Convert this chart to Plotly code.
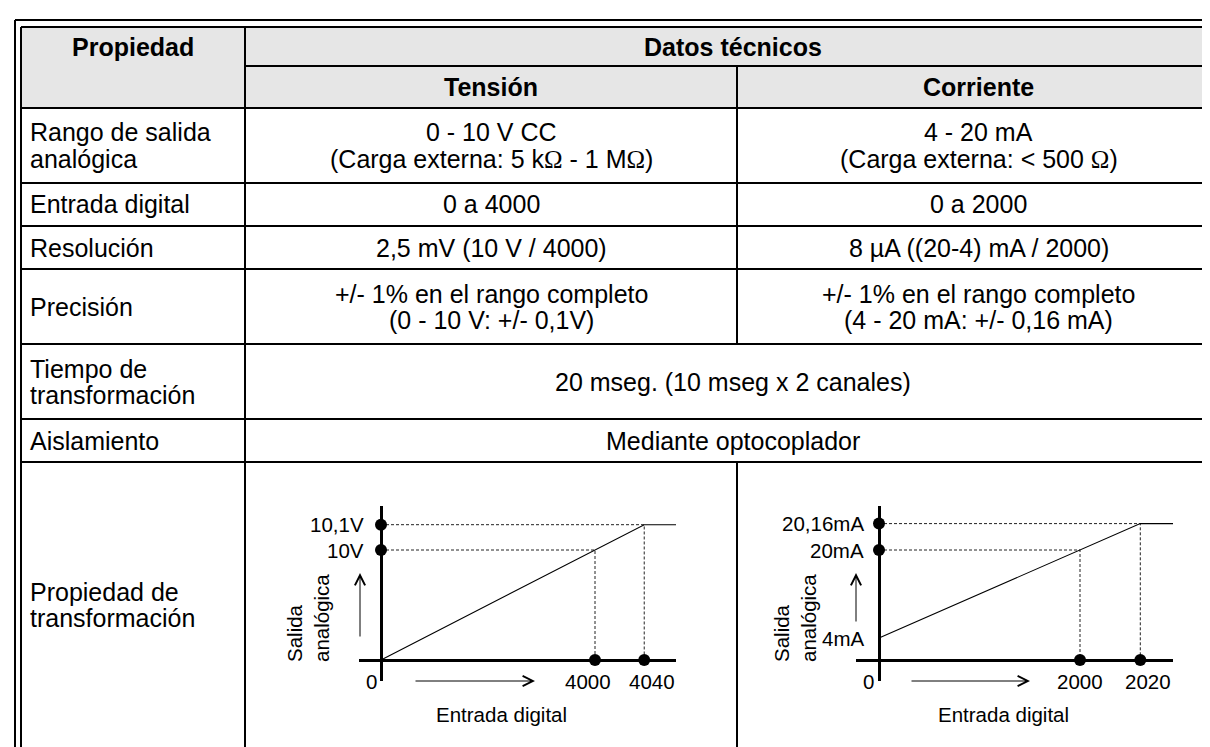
import plotly.graph_objects as go

W, H = 1210, 747
FONT = "Arial, 'Liberation Sans', Helvetica, sans-serif"
OHM = "<span style=\"font-family:'Liberation Serif', 'Times New Roman', serif\">Ω</span>"

# ---------------- table content ----------------
hdr_prop = "Propiedad"
hdr_datos = "Datos técnicos"
hdr_cols = ["Tensión", "Corriente"]
row_labels = [
    ["Rango de salida", "analógica"],
    ["Entrada digital"],
    ["Resolución"],
    ["Precisión"],
    ["Tiempo de", "transformación"],
    ["Aislamiento"],
    ["Propiedad de", "transformación"],
]
tension_vals = [
    ["0 - 10 V CC", "(Carga externa: 5 kΩ - 1 MΩ)"],
    ["0 a 4000"],
    ["2,5 mV (10 V / 4000)"],
    ["+/- 1% en el rango completo", "(0 - 10 V: +/- 0,1V)"],
    None, None, None,
]
corriente_vals = [
    ["4 - 20 mA", "(Carga externa: < 500 Ω)"],
    ["0 a 2000"],
    ["8 µA ((20-4) mA / 2000)"],
    ["+/- 1% en el rango completo", "(4 - 20 mA: +/- 0,16 mA)"],
    None, None, None,
]
merged_vals = [None, None, None, None,
               ["20 mseg. (10 mseg x 2 canales)"], ["Mediante optocoplador"], None]

# ---------------- chart data ----------------
volt_in = [0, 4000, 4040]
volt_out = [0, 10, 10.1]
volt_in_labels = ["0", "4000", "4040"]
volt_out_labels = ["", "10V", "10,1V"]
curr_in = [0, 2000, 2020]
curr_out = [4, 20, 20.16]
curr_in_labels = ["0", "2000", "2020"]
curr_out_labels = ["4mA", "20mA", "20,16mA"]
x_title = "Entrada digital"
y_title = ["Salida", "analógica"]

# ---------------- layout geometry (pixels) ----------------
X_OUT, X_IN = 7, 13
Y_OUT, Y_IN = 12, 19
X_C1, X_C2, X_R = 237, 729, 1212
Y_H1, Y_H2 = 58, 100
row_edges = [100, 175, 218, 261, 336, 411, 454, 740]
LINE_GAP = 26
TS = 25      # table font size
CS = 20.5    # chart font size


def PX(x):
    return x / W


def PY(y):
    return 1 - y / H


shapes = []
annotations = []


def hline(y, x0, x1, w=2):
    shapes.append(dict(type="line", xref="paper", yref="paper",
                       x0=PX(x0), x1=PX(x1), y0=PY(y), y1=PY(y),
                       line=dict(color="black", width=w)))


def vline(x, y0, y1, w=2):
    shapes.append(dict(type="line", xref="paper", yref="paper",
                       x0=PX(x), x1=PX(x), y0=PY(y0), y1=PY(y1),
                       line=dict(color="black", width=w)))


def text(t, x, y, anchor="center", size=TS, bold=False):
    t = t.replace("Ω", OHM)
    if bold:
        t = "<b>" + t + "</b>"
    annotations.append(dict(text=t, xref="paper", yref="paper", x=PX(x), y=PY(y),
                            xanchor=anchor, yanchor="middle", showarrow=False,
                            font=dict(family=FONT, size=size, color="black")))


def cell_lines(lines, x, yc, anchor="center"):
    n = len(lines)
    for i, ln in enumerate(lines):
        text(ln, x, yc + (i - (n - 1) / 2) * LINE_GAP, anchor)


# header fill
shapes.append(dict(type="rect", xref="paper", yref="paper",
                   x0=PX(X_IN), x1=PX(X_R), y0=PY(Y_IN), y1=PY(Y_H2),
                   fillcolor="#e6e6e6", line=dict(width=0), layer="below"))

# outer double border
vline(X_OUT, Y_OUT, H)
vline(X_IN, Y_IN, H)
hline(Y_OUT, X_OUT, W + 5)
hline(Y_IN, X_IN, W + 5)
# inner grid
hline(Y_H1, X_C1, W + 5)
for y in row_edges[:-1]:
    hline(y, X_IN, W + 5)
vline(X_C1, Y_IN, H)
vline(X_C2, Y_H1, row_edges[4])
vline(X_C2, row_edges[6], H)

# header text
text(hdr_prop, (X_IN + X_C1) / 2, 39, bold=True)
text(hdr_datos, (X_C1 + X_R) / 2, 39, bold=True)
text(hdr_cols[0], (X_C1 + X_C2) / 2, 79, bold=True)
text(hdr_cols[1], (X_C2 + X_R) / 2, 79, bold=True)

for i, lab in enumerate(row_labels):
    y0, y1 = row_edges[i], row_edges[i + 1]
    yc = (y0 + y1) / 2
    cell_lines(lab, 20, yc, "left")
    if tension_vals[i]:
        cell_lines(tension_vals[i], (X_C1 + X_C2) / 2, yc)
    if corriente_vals[i]:
        cell_lines(corriente_vals[i], (X_C2 + X_R) / 2, yc)
    if merged_vals[i]:
        cell_lines(merged_vals[i], (X_C1 + X_R) / 2, yc)


# ---------------- charts ----------------
def sch(v, nom, k):
    """schematic scale: the over-range part is drawn enlarged (not to scale)"""
    return v if v <= nom else nom + (v - nom) * k


charts = [
    dict(xin=volt_in, yout=volt_out, xl=volt_in_labels, yl=volt_out_labels,
         ox=373, oy=652, sx=214 / 4000, sy=11, k=23, dx=(351, 668), dy=(498, 673),
         xshift=[-10, -7, 8], lab_r=-15, ytitle_x=300, xtitle_x=493,
         varrow=(352, 565, 65), harrow=(527, 673, -121), ax="x", ay="y"),
    dict(xin=curr_in, yout=curr_out, xl=curr_in_labels, yl=curr_out_labels,
         ox=871, oy=652, sx=201 / 2000, sy=5.5, k=30, dx=(848, 1165), dy=(498, 673),
         xshift=[-11, 0, 8], lab_r=-13, ytitle_x=787, xtitle_x=995,
         varrow=(848, 565, 50), harrow=(1022, 673, -120), ax="x2", ay="y2"),
]

fig = go.Figure()
layout_axes = {}
for c in charts:
    xn, yn, k = c["xin"][1], c["yout"][1], c["k"]
    X = [sch(v, xn, k) for v in c["xin"]]
    Y = [sch(v, yn, k) for v in c["yout"]]
    xr = [(c["dx"][0] - c["ox"]) / c["sx"], (c["dx"][1] - c["ox"]) / c["sx"]]
    yr = [(c["oy"] - c["dy"][1]) / c["sy"], (c["oy"] - c["dy"][0]) / c["sy"]]
    dash = dict(color="#222", width=1, dash="3px,2px")
    for i in (1, 2):
        fig.add_trace(go.Scatter(x=[0, X[i], X[i]], y=[Y[i], Y[i], 0], mode="lines",
                                 line=dash, xaxis=c["ax"], yaxis=c["ay"],
                                 hoverinfo="skip"))
    fig.add_trace(go.Scatter(x=[0, X[1], X[2], xr[1]], y=[Y[0], Y[1], Y[2], Y[2]],
                             mode="lines", line=dict(color="black", width=1.1),
                             xaxis=c["ax"], yaxis=c["ay"], hoverinfo="skip"))
    fig.add_trace(go.Scatter(x=[0, 0, X[1], X[2]], y=[Y[1], Y[2], 0, 0], mode="markers",
                             marker=dict(color="black", size=12),
                             xaxis=c["ax"], yaxis=c["ay"], hoverinfo="skip"))
    axis_common = dict(showgrid=False, showticklabels=False, ticks="", showline=False,
                       zeroline=True, zerolinecolor="black", zerolinewidth=2.5,
                       fixedrange=True)
    xkey = "xaxis" if c["ax"] == "x" else "xaxis2"
    ykey = "yaxis" if c["ay"] == "y" else "yaxis2"
    layout_axes[xkey] = dict(axis_common, range=xr, domain=[PX(c["dx"][0]), PX(c["dx"][1])],
                             anchor=c["ay"])
    layout_axes[ykey] = dict(axis_common, range=yr, domain=[PY(c["dy"][1]), PY(c["dy"][0])],
                             anchor=c["ax"])
    # y value labels
    for v, lab in zip(Y, c["yl"]):
        if lab:
            annotations.append(dict(text=lab, xref=c["ax"], yref=c["ay"], x=0, y=v,
                                    xanchor="right", yanchor="middle", xshift=c["lab_r"],
                                    showarrow=False, font=dict(family=FONT, size=CS)))
    # x value labels
    for v, lab, sh in zip(X, c["xl"], c["xshift"]):
        annotations.append(dict(text=lab, xref=c["ax"], yref=c["ay"], x=v, y=yr[0],
                                xanchor="center", yanchor="middle", xshift=sh,
                                showarrow=False, font=dict(family=FONT, size=CS)))
    # axis titles
    text(x_title, c["xtitle_x"], 706, size=CS)
    annotations.append(dict(text="<br>".join(y_title), xref="paper", yref="paper",
                            x=PX(c["ytitle_x"]), y=PY(610), xanchor="center",
                            yanchor="middle", textangle=-90, align="left",
                            showarrow=False, font=dict(family=FONT, size=CS)))
    # direction arrows
    vx, vy, vlen = c["varrow"]
    annotations.append(dict(text="", xref="paper", yref="paper", x=PX(vx), y=PY(vy),
                            ax=0, ay=vlen, showarrow=True, arrowhead=5, arrowsize=2,
                            arrowwidth=1, arrowcolor="black", standoff=0))
    hx, hy, hlen = c["harrow"]
    annotations.append(dict(text="", xref="paper", yref="paper", x=PX(hx), y=PY(hy),
                            ax=hlen, ay=0, showarrow=True, arrowhead=5, arrowsize=2,
                            arrowwidth=1, arrowcolor="black", standoff=0))

fig.update_layout(
    width=W, height=H, margin=dict(l=0, r=0, t=0, b=0),
    paper_bgcolor="white", plot_bgcolor="rgba(0,0,0,0)",
    showlegend=False, hovermode=False,
    shapes=shapes, annotations=annotations,
    font=dict(family=FONT, color="black"),
    **layout_axes,
)

fig.write_html("out.html", config={"displayModeBar": False})
